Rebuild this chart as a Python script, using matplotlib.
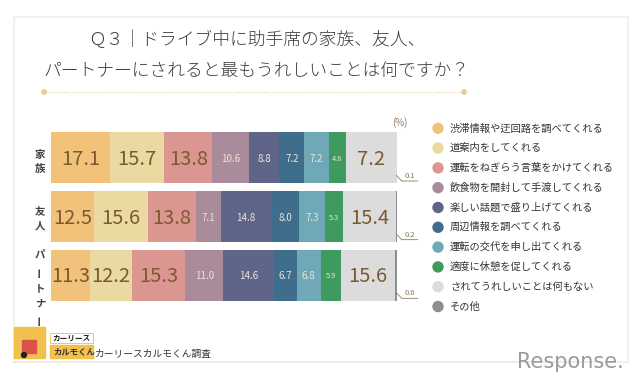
import matplotlib
matplotlib.use("Agg")
import matplotlib.pyplot as plt
from matplotlib.patches import Rectangle, Circle

plt.rcParams["font.family"] = ["Noto Sans CJK JP", "DejaVu Sans"]

# data ---------------------------------------------------------------
rows = ["家族", "友人", "パートナー"]
categories = [
    "渋滞情報や迂回路を調べてくれる",
    "道案内をしてくれる",
    "運転をねぎらう言葉をかけてくれる",
    "飲食物を開封して手渡してくれる",
    "楽しい話題で盛り上げてくれる",
    "周辺情報を調べてくれる",
    "運転の交代を申し出てくれる",
    "適度に休憩を促してくれる",
    "されてうれしいことは何もない",
    "その他",
]
family = [17.1, 15.7, 13.8, 10.6, 8.8, 7.2, 7.2, 4.8, 14.7, 0.1]
friend = [12.5, 15.6, 13.8, 7.1, 14.8, 8.0, 7.3, 5.3, 15.4, 0.2]
partner = [11.3, 12.2, 15.3, 11.0, 14.6, 6.7, 6.8, 5.9, 15.6, 0.6]
values = [family, friend, partner]
# the printed label on the family "nothing" segment differs from its width
label_override = {(0, 8): "7.2"}

colors = ["#F2C27B", "#EAD9A1", "#DB9692", "#AA8B9B", "#5F6588",
          "#3F6E8C", "#6FA8B6", "#3F9A5F", "#DCDCDC", "#8E8E8E"]
big = {0, 1, 2, 8}

fig = plt.figure(figsize=(6.4, 3.84), dpi=100)

# overlay in pixel coordinates for decoration
ov = fig.add_axes([0, 0, 1, 1], zorder=0)
ov.set_xlim(0, 640)
ov.set_ylim(384, 0)
ov.axis("off")

ov.add_patch(Rectangle((14, 17), 614, 345, fill=False, ec="#F2EDE0", lw=1.2))
ov.text(257, 40, "Ｑ３｜ドライブ中に助手席の家族、友人、", ha="center",
        va="center", fontsize=12.8, color="#3c3c3c", fontweight="light")
ov.text(257, 71, "パートナーにされると最もうれしいことは何ですか？", ha="center",
        va="center", fontsize=12.8, color="#3c3c3c", fontweight="light")
ov.plot([44, 464], [92, 92], ls=(0, (1, 1.5)), color="#E3D1A3", lw=0.8)
for x in (44, 464):
    ov.add_patch(Circle((x, 92), 2.2, color="#E3CF98"))

# row labels, stacked vertically
label_pos = [(40, [155, 169]), (40, [211, 226]), (40, [255, 272, 288, 304, 320])]
for name, (x, ys) in zip(rows, label_pos):
    for ch, y in zip(name, ys):
        ov.text(x, y, ch, ha="center", va="center", fontsize=7.5,
                color="#444444", fontweight="bold",
                rotation=90 if ch == "ー" else 0)

ov.text(400, 123, "(%)", ha="center", va="center", fontsize=7, color="#8B7A5A")

# legend
for i, (cat, c) in enumerate(zip(categories, colors)):
    y = 128.3 + i * 19.8
    ov.add_patch(Circle((438, y), 5, color=c))
    ov.text(450, y, cat, ha="left", va="center", fontsize=7.4, color="#333333")

# footer
ov.plot([14, 590], [362, 362], color="#F0EADB", lw=1.2)
ov.add_patch(Rectangle((14, 327), 31, 31, color="#F2C04C"))
ov.add_patch(Rectangle((22, 340), 14, 13, color="#D9534A"))
ov.add_patch(Circle((24, 355), 2.5, color="#222222"))
ov.add_patch(Rectangle((50, 333), 43, 10, fc="white", ec="#F2C04C", lw=0.6))
ov.text(71.5, 338, "カーリース", ha="center", va="center", fontsize=5.5,
        fontweight="bold", color="#222222")
ov.add_patch(Rectangle((50, 345), 43, 13, color="#F2C04C"))
ov.text(53, 351.5, "カルモくん", ha="left", va="center", fontsize=6,
        fontweight="bold", color="#333333")
ov.text(95, 354, "カーリースカルモくん調査", ha="left", va="center",
        fontsize=7, color="#333333")
ov.text(570, 362, "Response.", ha="center", va="center", fontsize=15,
        color="#9a9a9a", family="DejaVu Sans")

# main bars ----------------------------------------------------------
ax = fig.add_axes([51 / 640, 1 - 304.5 / 384, 346 / 640, 176 / 384], zorder=1)
ax.patch.set_visible(False)
for r, vals in enumerate(values):
    left = 0
    for k, v in enumerate(vals):
        ax.barh(r, v, left=left, height=0.87, color=colors[k], lw=0)
        txt = label_override.get((r, k), f"{v:.1f}")
        cx = left + v / 2
        if k in big:
            ax.text(cx, r + 0.03, txt, ha="center", va="center", fontsize=14.5,
                    color="#7A5B2F")
        elif k < 9:
            fs = 5.3 if k == 7 else 7
            ax.text(cx, r + 0.02, txt, ha="center", va="center", fontsize=fs,
                    color="#EDE5D6")
        left += v
    # leader line for the tiny "other" share
    ax.plot([99.8, 101.4, 106], [r + 0.3, r + 0.395, r + 0.395],
            color="#8B7A5A", lw=0.6, clip_on=False)
    ax.text(103.8, r + 0.31, f"{vals[-1]:.1f}", ha="center", va="center",
            fontsize=5.5, color="#8B7A5A", clip_on=False)

ax.set_xlim(0, 100)
ax.set_ylim(2.5, -0.5)
ax.axis("off")

fig.savefig("out.png", dpi=100)
